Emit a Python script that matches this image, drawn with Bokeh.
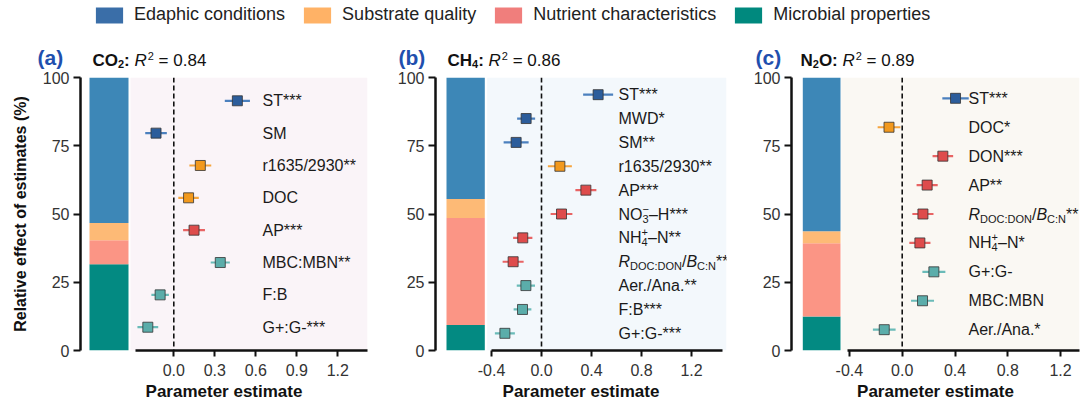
import numpy as np
from bokeh.plotting import figure
from bokeh.models import (Range1d, FixedTicker, PrintfTickFormatter, Span,
                          ColumnDataSource, Legend, LegendItem, BoxAnnotation)
from bokeh.layouts import column, row
from bokeh.embed import file_html
from bokeh.resources import INLINE
from bokeh.core.properties import value

FONT = "Liberation Sans"

# ---------------- data ----------------
groups = ["E", "S", "N", "M"]
group_names = ["Edaphic conditions", "Substrate quality",
               "Nutrient characteristics", "Microbial properties"]
legend_colors = ["#3A6EA8", "#FFB266", "#F07E7C", "#00897E"]
bar_colors = ["#3D87B7", "#FDBA76", "#FB9585", "#038A82"]
point_colors = ["#2C5D9B", "#F2991D", "#DE4C4C", "#5BADAA"]
line_colors = ["#4B80BE", "#F6A53E", "#E86464", "#6ABBB8"]

ylabel_text = "Relative effect of estimates (%)"
xlabel_text = "Parameter estimate"

# Panel (a) CO2
a_tag = "(a)"
a_title = "~CO_{2}:~ |R|^{2} = 0.84"
a_share = [53.3, 6.3, 8.8, 31.6]          # E, S, N, M (%)
a_labels = ["ST***", "SM", "r1635/2930**", "DOC", "AP***", "MBC:MBN**", "F:B", "G+:G-***"]
a_est = [0.465, -0.13, 0.194, 0.108, 0.148, 0.34, -0.10, -0.19]
a_err = [0.092, 0.079, 0.080, 0.075, 0.080, 0.070, 0.064, 0.076]
a_group = ["E", "E", "S", "S", "N", "M", "M", "M"]
a_xticks = [0.0, 0.3, 0.6, 0.9, 1.2]

# Panel (b) CH4
b_tag = "(b)"
b_title = "~CH_{4}:~ |R|^{2} = 0.86"
b_share = [44.5, 7.0, 39.2, 9.3]
b_labels = ["ST***", "MWD*", "SM**", "r1635/2930**", "AP***", "NO_{3}^{−}–H***",
            "NH_{4}^{+}–N**", "|R|_{DOC:DON}/|B|_{C:N}**", "Aer./Ana.**", "F:B***", "G+:G-***"]
b_est = [0.453, -0.123, -0.203, 0.147, 0.355, 0.16, -0.15, -0.227, -0.125, -0.152, -0.293]
b_err = [0.120, 0.072, 0.100, 0.096, 0.084, 0.087, 0.077, 0.084, 0.073, 0.071, 0.080]
b_group = ["E", "E", "E", "S", "N", "N", "N", "N", "M", "M", "M"]
b_xticks = [-0.4, 0.0, 0.4, 0.8, 1.2]

# Panel (c) N2O
c_tag = "(c)"
c_title = "~N_{2}O:~ |R|^{2} = 0.89"
c_share = [56.3, 4.4, 26.8, 12.5]
c_labels = ["ST***", "DOC*", "DON***", "AP**", "|R|_{DOC:DON}/|B|_{C:N}**",
            "NH_{4}^{+}–N*", "G+:G-", "MBC:MBN", "Aer./Ana.*"]
c_est = [0.404, -0.10, 0.308, 0.189, 0.157, 0.134, 0.24, 0.154, -0.136]
c_err = [0.100, 0.086, 0.078, 0.080, 0.080, 0.080, 0.087, 0.087, 0.086]
c_group = ["E", "S", "N", "N", "N", "N", "M", "M", "M"]
c_xticks = [-0.4, 0.0, 0.4, 0.8, 1.2]

# ---------------- text helpers ----------------
W = {' ': 278, '!': 278, '*': 389, '+': 584, ',': 278, '-': 333, '.': 278, '/': 278,
     ':': 278, '=': 584, '(': 333, ')': 333, '–': 556, '−': 584,
     'A': 667, 'B': 667, 'C': 722, 'D': 722, 'E': 667, 'F': 611, 'G': 778, 'H': 722,
     'I': 278, 'M': 833, 'N': 722, 'O': 778, 'P': 667, 'R': 722, 'S': 667, 'T': 611,
     'W': 944, 'a': 556, 'c': 500, 'd': 556, 'e': 556, 'i': 222, 'l': 222, 'n': 556,
     'o': 556, 'r': 333, 's': 500, 't': 278}
WB = {':': 333, 'r': 389, 't': 333, 'i': 278, 'l': 278}


def text_width(s, size, bold=False):
    tot = 0
    for ch in s:
        w = W.get(ch, 556)
        if bold:
            w = WB.get(ch, w)
        tot += w
    return tot * size / 1000.0


def _style(b, it):
    if b and it:
        return "bold italic"
    if b:
        return "bold"
    if it:
        return "italic"
    return "normal"


def rich_segments(markup, size, small, sub_dy, sup_dy):
    """Split a tiny markup (~bold~, |italic|, _{sub}, ^{sup}) into text pieces."""
    segs = []
    st = {"x": 0.0, "bold": False, "italic": False, "buf": "", "last_sub": None}

    def flush():
        if st["buf"]:
            t = st["buf"]
            lead = len(t) - len(t.lstrip(" "))
            st["x"] += text_width(" " * lead, size, st["bold"])
            t = t.lstrip(" ")
            if t:
                segs.append(dict(text=t, dx=st["x"], dy=0.0, size=size,
                                 style=_style(st["bold"], st["italic"])))
                st["x"] += text_width(t, size, st["bold"])
            st["buf"] = ""
            st["last_sub"] = None

    i = 0
    while i < len(markup):
        ch = markup[i]
        if ch in "~|":
            flush()
            if ch == "~":
                st["bold"] = not st["bold"]
            else:
                st["italic"] = not st["italic"]
            i += 1
            continue
        if ch in "_^" and markup[i + 1:i + 2] == "{":
            flush()
            j = markup.index("}", i)
            content = markup[i + 2:j]
            w = text_width(content, small, st["bold"])
            sty = _style(st["bold"], False)
            if ch == "_":
                segs.append(dict(text=content, dx=st["x"], dy=sub_dy, size=small, style=sty))
                st["last_sub"] = (st["x"], w)
                st["x"] += w
            else:
                if st["last_sub"] is not None:
                    x0, w0 = st["last_sub"]
                    segs.append(dict(text=content, dx=x0, dy=sup_dy, size=small, style=sty))
                    st["x"] = x0 + max(w0, w)
                    st["last_sub"] = None
                else:
                    segs.append(dict(text=content, dx=st["x"] + 1, dy=sup_dy, size=small, style=sty))
                    st["x"] += w + 1
            i = j + 1
            continue
        st["buf"] += ch
        i += 1
    flush()
    return segs


# ---------------- layout specs (pixels) ----------------
TOP_H = 69
FRAME_TOP_PAD = 8
FRAME_H = 273
specs = {
    "a": dict(frame_left=80, frame_w=287, zero=173.3, ppu=136.7, bar=(89, 128), bg=130,
              ax0=135, ax1=367, label_px=262, bl=80, br=5, bgcol="#FAF4F8",
              title_dx=12, tag_dx=-43),
    "b": dict(frame_left=435, frame_w=291, zero=541, ppu=125, bar=(446, 484.3), bg=486.7,
              ax0=490.5, ax1=722, label_px=618, bl=63, br=2, bgcol="#F3F8FC",
              title_dx=12, tag_dx=-37),
    "c": dict(frame_left=791, frame_w=288, zero=901.7, ppu=132, bar=(802.3, 840), bg=840.7,
              ax0=846.5, ax1=1079, label_px=968, bl=63, br=1, bgcol="#FAF8F3",
              title_dx=9, tag_dx=-36),
}


def make_panel(spec, share, labels, est, err, grp, xticks, ylabel):
    ppu, zero = spec["ppu"], spec["zero"]

    def px2x(px):
        return (px - zero) / ppu

    x0 = px2x(spec["frame_left"])
    x1 = px2x(spec["frame_left"] + spec["frame_w"])
    n = len(labels)
    p = figure(frame_width=spec["frame_w"], frame_height=FRAME_H,
               x_range=Range1d(x0, x1), y_range=Range1d(0, 100),
               toolbar_location=None, output_backend="svg",
               min_border_left=spec["bl"], min_border_right=spec["br"],
               min_border_top=FRAME_TOP_PAD, min_border_bottom=55,
               outline_line_color=None, background_fill_color="white",
               border_fill_color="white")
    p.grid.visible = False
    p.extra_y_ranges = {"forest": Range1d(n + 0.72, 1 - 0.72)}

    p.add_layout(BoxAnnotation(left=px2x(spec["bg"]), fill_color=spec["bgcol"],
                               fill_alpha=1.0, line_color=None, level="underlay"))

    # stacked bar of relative effects (bottom-up: M, N, S, E)
    order = [3, 2, 1, 0]
    vals = np.array([share[k] for k in order])
    tops = np.cumsum(vals)
    bottoms = tops - vals
    bsrc = ColumnDataSource(dict(bottom=bottoms, top=tops,
                                 color=[bar_colors[k] for k in order]))
    p.quad(left=px2x(spec["bar"][0]), right=px2x(spec["bar"][1]),
           bottom="bottom", top="top", fill_color="color", line_color=None, source=bsrc)

    p.add_layout(Span(location=0, dimension="height", line_color="#111111",
                      line_dash="5 3", line_width=1.6))

    gi = [groups.index(g) for g in grp]
    est_a = np.array(est)
    err_a = np.array(err)
    src = ColumnDataSource(dict(y=list(range(1, n + 1)), est=est_a,
                                lo=est_a - err_a, hi=est_a + err_a,
                                lc=[line_colors[k] for k in gi],
                                pc=[point_colors[k] for k in gi]))
    p.segment(x0="lo", x1="hi", y0="y", y1="y", line_color="lc", line_width=2.2,
              y_range_name="forest", source=src)
    p.scatter(x="est", y="y", marker="square", size=10, fill_color="pc",
              line_color="#333333", line_width=0.8, y_range_name="forest", source=src)

    # variable labels
    lx = px2x(spec["label_px"])
    cols = dict(x=[], y=[], dx=[], dy=[], text=[], size=[], style=[])
    for i, lab in enumerate(labels):
        for s in rich_segments(lab, 16, 11, 4.5, -5.5):
            cols["x"].append(lx)
            cols["y"].append(i + 1)
            cols["dx"].append(s["dx"])
            cols["dy"].append(s["dy"])
            cols["text"].append(s["text"])
            cols["size"].append(f'{s["size"]}px')
            cols["style"].append(s["style"])
    p.text(x="x", y="y", x_offset="dx", y_offset="dy", text="text",
           text_font_size="size", text_font_style="style", text_font=value(FONT),
           text_baseline="middle", text_align="left", text_color="#1a1a1a",
           y_range_name="forest", source=ColumnDataSource(cols))

    # axes
    ya = p.yaxis[0]
    ya.ticker = FixedTicker(ticks=[0, 25, 50, 75, 100])
    ya.axis_line_width = 2.5
    ya.axis_line_color = "#111111"
    ya.major_tick_line_width = 2
    ya.major_tick_line_color = "#111111"
    ya.major_tick_out = 7
    ya.major_tick_in = 0
    ya.minor_tick_line_color = None
    ya.major_label_text_font = FONT
    ya.major_label_text_font_size = "16px"
    ya.major_label_text_color = "#333333"
    ya.major_label_standoff = 4
    if ylabel:
        ya.axis_label = ylabel
        ya.axis_label_text_font = FONT
        ya.axis_label_text_font_style = "bold"
        ya.axis_label_text_font_size = "16px"
        ya.axis_label_text_color = "#111111"
        ya.axis_label_standoff = 11

    xa = p.xaxis[0]
    xa.ticker = FixedTicker(ticks=xticks)
    xa.formatter = PrintfTickFormatter(format="%.1f")
    xa.bounds = (px2x(spec["ax0"]), px2x(spec["ax1"]))
    xa.axis_line_width = 2.5
    xa.axis_line_color = "#111111"
    xa.major_tick_line_width = 2
    xa.major_tick_line_color = "#111111"
    xa.major_tick_out = 6
    xa.major_tick_in = 0
    xa.minor_tick_line_color = None
    xa.major_label_text_font = FONT
    xa.major_label_text_font_size = "16px"
    xa.major_label_text_color = "#333333"
    xa.major_label_standoff = 7
    xa.axis_label = xlabel_text
    xa.axis_label_text_font = FONT
    xa.axis_label_text_font_style = "bold"
    xa.axis_label_text_font_size = "17px"
    xa.axis_label_text_color = "#111111"
    xa.axis_label_standoff = 3
    return p


pa = make_panel(specs["a"], a_share, a_labels, a_est, a_err, a_group, a_xticks, ylabel_text)
pb = make_panel(specs["b"], b_share, b_labels, b_est, b_err, b_group, b_xticks, None)
pc = make_panel(specs["c"], c_share, c_labels, c_est, c_err, c_group, c_xticks, None)

# ---------------- top strip: legend, panel tags and titles ----------------
top = figure(width=1080, height=TOP_H, x_range=Range1d(0, 1080), y_range=Range1d(TOP_H, 0),
             toolbar_location=None, output_backend="svg", x_axis_type=None,
             y_axis_type=None, min_border=0, outline_line_color=None)
items = []
for name, col in zip(group_names, legend_colors):
    nan = np.array([np.nan])
    r = top.quad(left=nan, right=nan, top=nan, bottom=nan, fill_color=col, line_color=None)
    items.append(LegendItem(label=name, renderers=[r]))
leg = Legend(items=items, orientation="horizontal", location=(92, TOP_H - 25),
             glyph_width=34, glyph_height=20, label_standoff=8, spacing=15, padding=0,
             margin=0, border_line_color=None, background_fill_alpha=0,
             label_text_font=FONT, label_text_font_size="18px",
             label_text_color="#222222", label_height=20)
top.add_layout(leg, "center")

TITLE_BASE = 60
TAG_BASE = 56.5
tcols = dict(x=[], y=[], dx=[], dy=[], text=[], size=[], style=[], color=[])
for key, tag, title in (("a", a_tag, a_title), ("b", b_tag, b_title), ("c", c_tag, c_title)):
    sp = specs[key]
    tcols["x"].append(sp["frame_left"] + sp["tag_dx"])
    tcols["y"].append(TAG_BASE)
    tcols["dx"].append(0.0)
    tcols["dy"].append(0.0)
    tcols["text"].append(tag)
    tcols["size"].append("21px")
    tcols["style"].append("bold")
    tcols["color"].append("#1F4FAE")
    for s in rich_segments(title, 17, 11, 3, -5):
        tcols["x"].append(sp["frame_left"] + sp["title_dx"] + s["dx"])
        tcols["y"].append(TITLE_BASE)
        tcols["dx"].append(0.0)
        tcols["dy"].append(s["dy"])
        tcols["text"].append(s["text"])
        tcols["size"].append(f'{s["size"]}px')
        tcols["style"].append(s["style"])
        tcols["color"].append("#111111")
tsrc = ColumnDataSource(tcols)
top.text(x="x", y="y", x_offset="dx", y_offset="dy", text="text", text_font=value(FONT),
         text_font_size="size", text_font_style="style", text_color="color",
         text_baseline="alphabetic", text_align="left", source=tsrc)

layout = column(top, row(pa, pb, pc, spacing=0), spacing=0)
open("out.html", "w").write(file_html(layout, INLINE))
